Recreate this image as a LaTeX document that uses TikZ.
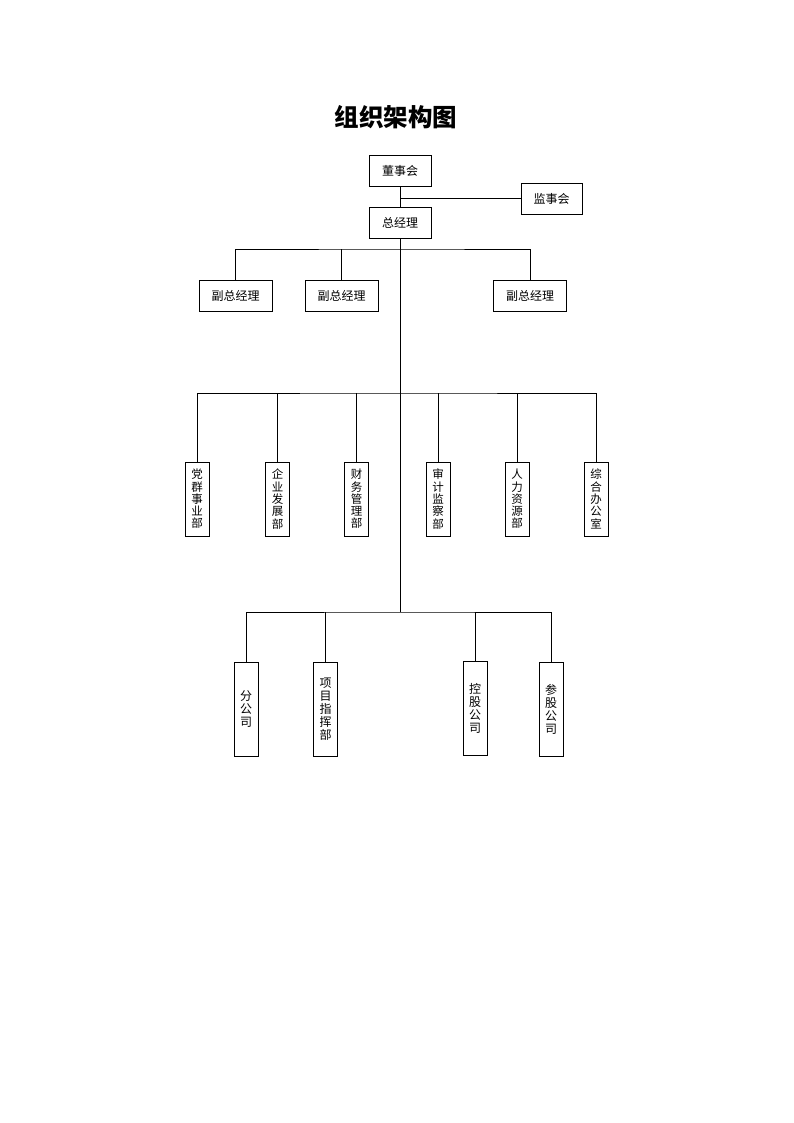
\documentclass[tikz,border=0pt]{standalone}
\usepackage{fontspec}
\newfontfamily\cjk{Noto Sans CJK SC}
\begin{document}
\begin{tikzpicture}[x=1pt,y=-1pt,line width=0.8pt,
  box/.style={draw,line width=0.8pt,inner sep=0pt,font=\cjk\fontsize{12}{14}\selectfont},
  hbox/.style={box,minimum width=62pt,minimum height=31pt},
  fbox/.style={box,minimum width=73pt,minimum height=31pt},
  vbox/.style={box,align=center,minimum width=24pt,minimum height=74pt,font=\cjk\fontsize{11.5}{12.3}\selectfont},
  wbox/.style={box,align=center,minimum width=24pt,minimum height=94pt,font=\cjk\fontsize{12}{13}\selectfont}]
\useasboundingbox (0,0) rectangle (794,1123);
\node[font=\cjk\bfseries\fontsize{24.5}{28}\selectfont] (title) at (396,117) {组织架构图};
% top
\node[hbox] (dsh) at (400,171) {董事会};
\node[hbox,minimum width=61pt] (jsh) at (551.5,198.5) {监事会};
\node[hbox] (zjl) at (400,222.5) {总经理};
\node[fbox] (fz1) at (235.5,295.5) {副总经理};
\node[fbox] (fz2) at (341.5,295.5) {副总经理};
\node[fbox] (fz3) at (530,295.5) {副总经理};
% departments
\node[vbox] (b1) at (197,499) {党\\群\\事\\业\\部};
\node[vbox] (b2) at (277.5,499) {企\\业\\发\\展\\部};
\node[vbox] (b3) at (356.5,499) {财\\务\\管\\理\\部};
\node[vbox] (b4) at (438,499) {审\\计\\监\\察\\部};
\node[vbox] (b5) at (517,499) {人\\力\\资\\源\\部};
\node[vbox] (b6) at (596,499) {综\\合\\办\\公\\室};
% companies
\node[wbox] (d1) at (246,709) {分\\公\\司};
\node[wbox] (d2) at (325.5,709) {项\\目\\指\\挥\\部};
\node[wbox] (d3) at (475,708) {控\\股\\公\\司};
\node[wbox] (d4) at (551,709.5) {参\\股\\公\\司};
% junctions
\coordinate (c1) at (400,198.5);
\coordinate (c2) at (400,249);
\coordinate (c3) at (400,393);
\coordinate (c4) at (400,612);
% connectors
\draw (dsh.south) -- (zjl.north);
\draw (c1) -- (jsh.west);
\draw (zjl.south) -- (c4);
\draw (fz1.north) |- (c2) -| (fz3.north);
\draw (fz2.north) -- (fz2.north |- c2);
\draw (b1.north) |- (c3) -| (b6.north);
\draw (b2.north) -- (b2.north |- c3);
\draw (b3.north) -- (b3.north |- c3);
\draw (b4.north) -- (b4.north |- c3);
\draw (b5.north) -- (b5.north |- c3);
\draw (d1.north) |- (c4) -| (d4.north);
\draw (d2.north) -- (d2.north |- c4);
\draw (d3.north) -- (d3.north |- c4);
\end{tikzpicture}
\end{document}
